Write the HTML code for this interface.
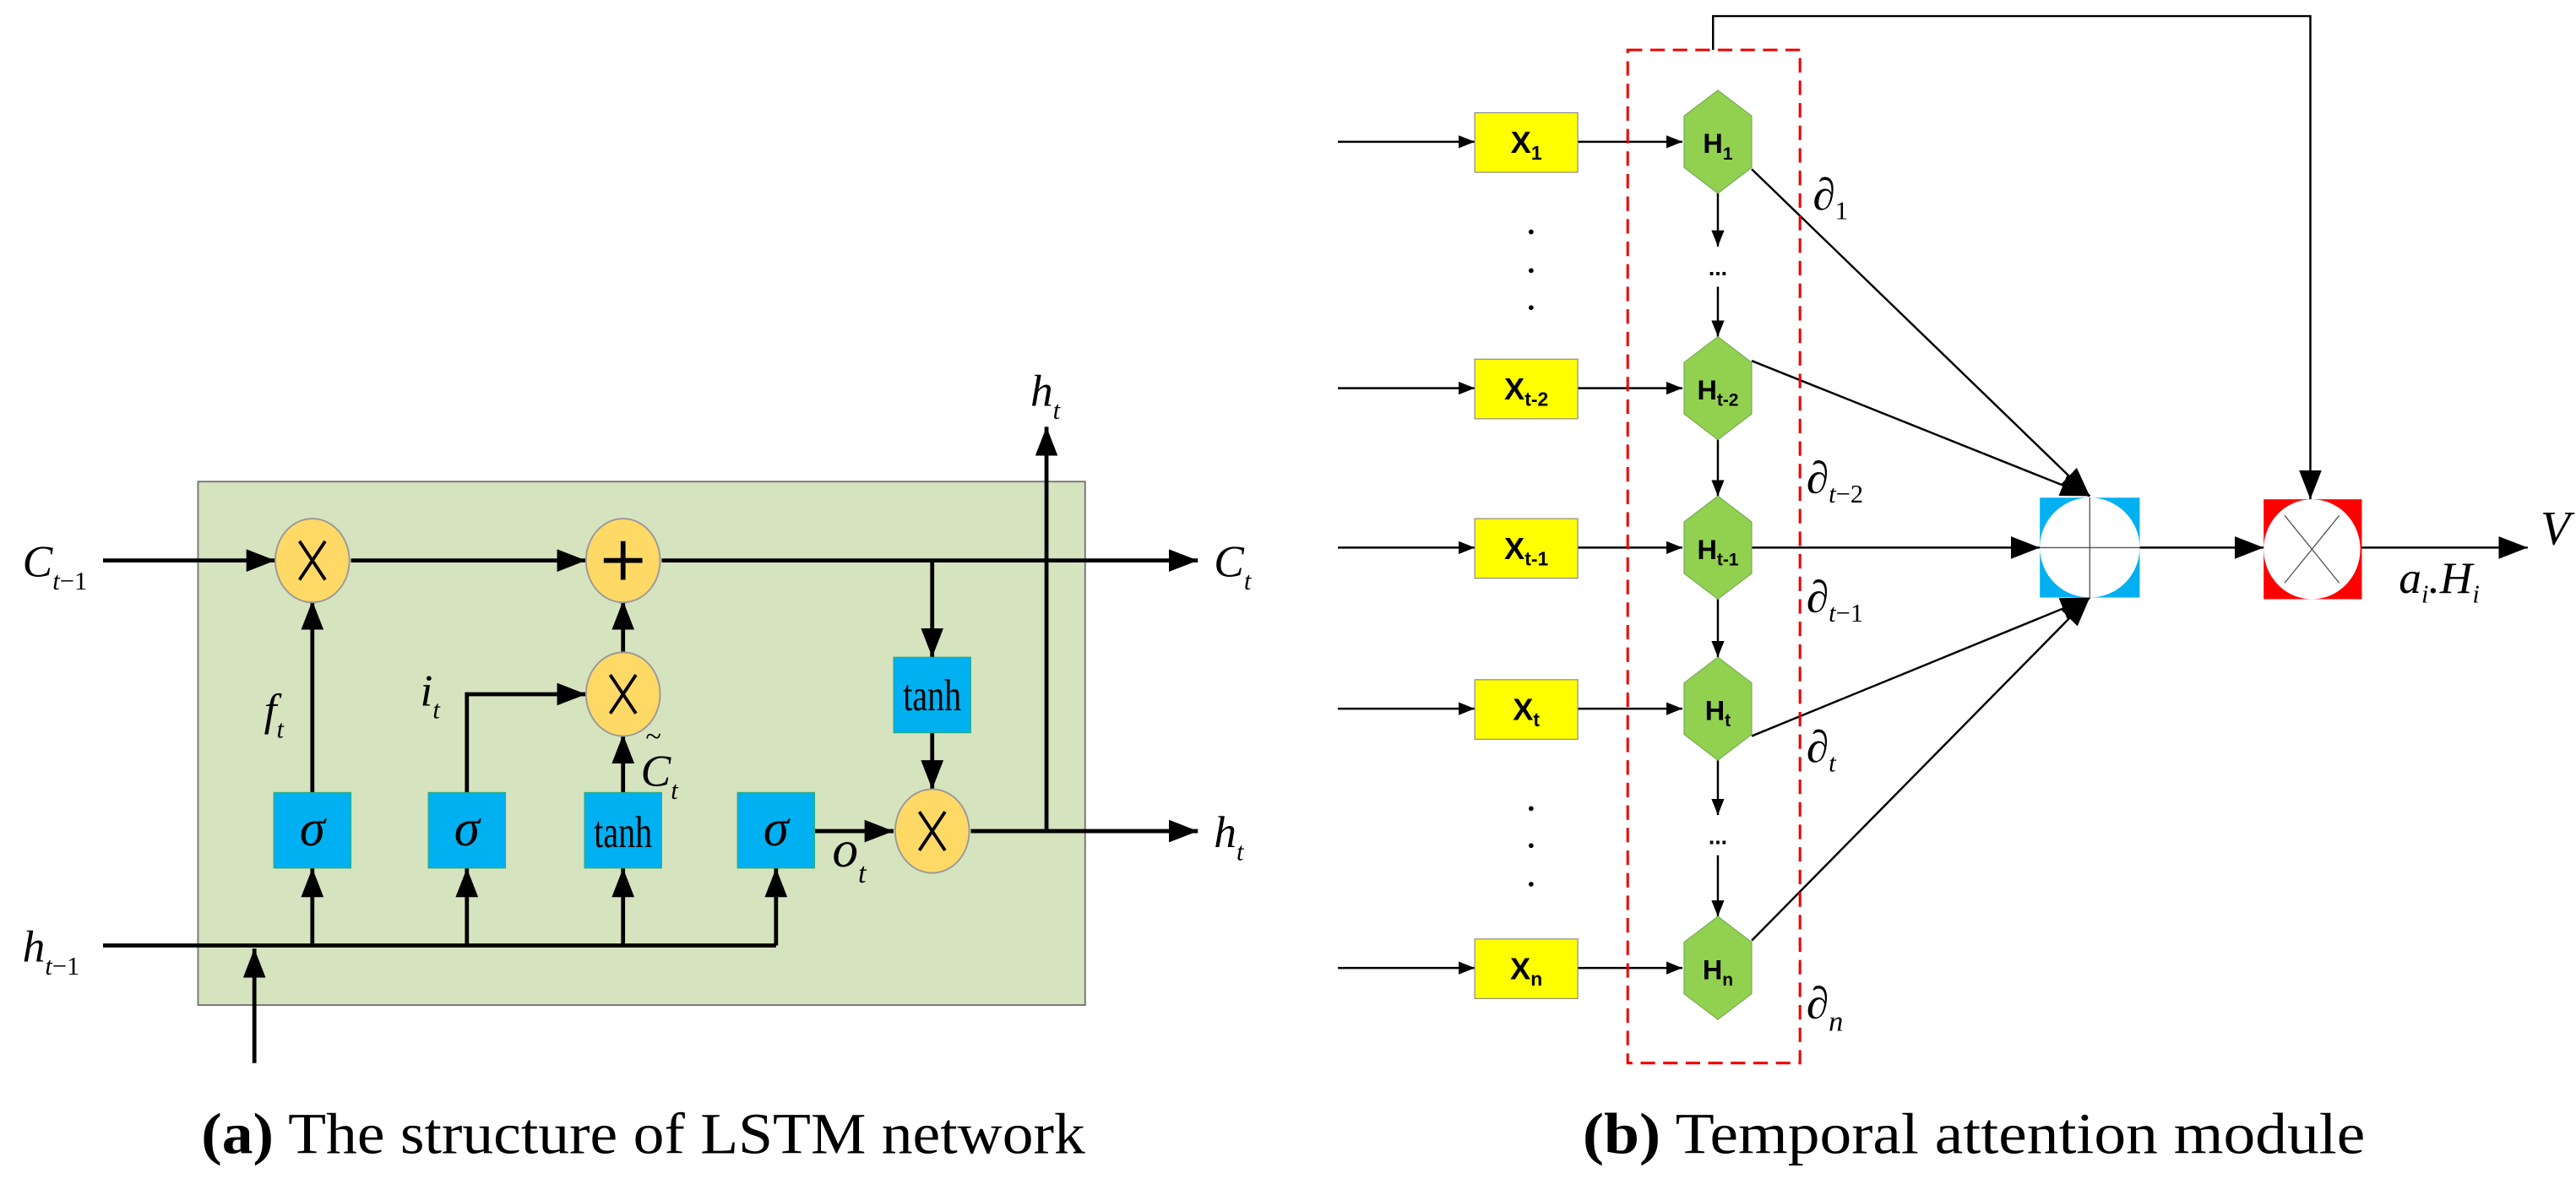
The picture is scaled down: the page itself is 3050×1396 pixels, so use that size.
<!DOCTYPE html>
<html><head><meta charset="utf-8"><style>
html,body{margin:0;padding:0;background:#fff;}
svg{display:block;}
text{font-family:"Liberation Serif",serif;}
g.s text{font-family:"Liberation Sans",sans-serif;font-weight:bold;}
</style></head><body>
<svg width="3050" height="1396" viewBox="0 0 1600 732" preserveAspectRatio="none" xmlns="http://www.w3.org/2000/svg">
<defs>
<marker id="a" markerWidth="10" markerHeight="8" refX="10" refY="4" orient="auto" markerUnits="userSpaceOnUse"><path d="M0,0 L10,4 L0,8 Z" fill="#000"/></marker>
<marker id="A" markerWidth="18" markerHeight="14" refX="18" refY="7" orient="auto" markerUnits="userSpaceOnUse"><path d="M0,0 L18,7 L0,14 Z" fill="#000"/></marker>
</defs>
<!-- Part a -->
<rect x="123" y="299" width="551" height="325" fill="#d6e3bf" stroke="#777" stroke-width="1"/>
<g stroke="#000" stroke-width="2.5" fill="none">
<line x1="64" y1="348" x2="171" y2="348" marker-end="url(#A)"/>
<line x1="218" y1="348" x2="364" y2="348" marker-end="url(#A)"/>
<line x1="411" y1="348" x2="744" y2="348" marker-end="url(#A)"/>
<line x1="579" y1="348" x2="579" y2="408" marker-end="url(#A)"/>
<line x1="579" y1="455" x2="579" y2="490" marker-end="url(#A)"/>
<line x1="194" y1="492" x2="194" y2="373" marker-end="url(#A)"/>
<line x1="387" y1="406" x2="387" y2="373" marker-end="url(#A)"/>
<line x1="387" y1="492" x2="387" y2="456" marker-end="url(#A)"/>
<polyline points="290,492 290,431 364,431" marker-end="url(#A)"/>
<line x1="506" y1="516" x2="555" y2="516" marker-end="url(#A)"/>
<line x1="603" y1="516" x2="744" y2="516" marker-end="url(#A)"/>
<line x1="650" y1="516" x2="650" y2="265" marker-end="url(#A)"/>
<line x1="64" y1="587" x2="482" y2="587"/>
<line x1="194" y1="587" x2="194" y2="539" marker-end="url(#A)"/>
<line x1="290" y1="587" x2="290" y2="539" marker-end="url(#A)"/>
<line x1="387" y1="587" x2="387" y2="539" marker-end="url(#A)"/>
<line x1="482" y1="587" x2="482" y2="539" marker-end="url(#A)"/>
<line x1="158" y1="660" x2="158" y2="589" marker-end="url(#A)"/>
</g>
<g fill="#ffd966" stroke="#999" stroke-width="1">
<ellipse cx="194" cy="348" rx="23" ry="26"/>
<ellipse cx="387" cy="348" rx="23" ry="26"/>
<ellipse cx="387" cy="431" rx="23" ry="26"/>
<ellipse cx="579" cy="516" rx="23" ry="26"/>
</g>
<g stroke="#000" stroke-width="2" fill="none">
<path d="M186,336 L202,360 M202,336 L186,360"/>
<path d="M379,419 L395,443 M395,419 L379,443"/>
<path d="M571,504 L587,528 M587,504 L571,528"/>
<path d="M387,336 L387,360 M375,348 L399,348" stroke-width="3"/>
</g>
<g fill="#00b0f0" stroke="#3a6" stroke-width="0.5">
<rect x="170" y="492" width="48" height="47"/>
<rect x="266" y="492" width="48" height="47"/>
<rect x="363" y="492" width="48" height="47"/>
<rect x="458" y="492" width="48" height="47"/>
<rect x="555" y="408" width="48" height="47"/>
</g>
<g font-size="32" font-style="italic" text-anchor="middle">
<text x="194" y="525">σ</text><text x="290" y="525">σ</text><text x="482" y="525">σ</text>
</g>
<g font-size="28" text-anchor="middle" transform="scale(0.75,1)">
<text x="516" y="526">tanh</text>
<text x="772" y="441">tanh</text>
</g>
<g font-size="28" font-style="italic">
<text x="14" y="358">C<tspan font-size="16" dy="8">t</tspan><tspan font-size="16" font-style="normal">−1</tspan></text>
<text x="14" y="597">h<tspan font-size="16" dy="8">t</tspan><tspan font-size="16" font-style="normal">−1</tspan></text>
<text x="754" y="358">C<tspan font-size="16" dy="8">t</tspan></text>
<text x="754" y="526">h<tspan font-size="16" dy="8">t</tspan></text>
<text x="640" y="252">h<tspan font-size="16" dy="8">t</tspan></text>
<text x="164" y="450">f<tspan font-size="16" dy="8">t</tspan></text>
<text x="261" y="438">i<tspan font-size="16" dy="8">t</tspan></text>
<text x="398" y="488">C<tspan font-size="16" dy="8">t</tspan></text>
<text x="401" y="463" font-size="18" font-style="normal">~</text>
<text x="517" y="538" font-size="32">o<tspan font-size="18" dy="10">t</tspan></text>
</g>
<text x="125" y="716" font-size="36" textLength="549" lengthAdjust="spacingAndGlyphs"><tspan font-weight="bold">(a)</tspan> The structure of LSTM network</text>

<!-- Part b -->
<g stroke="#000" stroke-width="1.3" fill="none">
<line x1="831" y1="88" x2="916" y2="88" marker-end="url(#a)"/>
<line x1="831" y1="241" x2="916" y2="241" marker-end="url(#a)"/>
<line x1="831" y1="340" x2="916" y2="340" marker-end="url(#a)"/>
<line x1="831" y1="440" x2="916" y2="440" marker-end="url(#a)"/>
<line x1="831" y1="601" x2="916" y2="601" marker-end="url(#a)"/>
<line x1="980" y1="88" x2="1045" y2="88" marker-end="url(#a)"/>
<line x1="980" y1="241" x2="1045" y2="241" marker-end="url(#a)"/>
<line x1="980" y1="340" x2="1045" y2="340" marker-end="url(#a)"/>
<line x1="980" y1="440" x2="1045" y2="440" marker-end="url(#a)"/>
<line x1="980" y1="601" x2="1045" y2="601" marker-end="url(#a)"/>
<line x1="1067" y1="120" x2="1067" y2="153" marker-end="url(#a)"/>
<line x1="1067" y1="178" x2="1067" y2="209" marker-end="url(#a)"/>
<line x1="1067" y1="273" x2="1067" y2="308" marker-end="url(#a)"/>
<line x1="1067" y1="372" x2="1067" y2="408" marker-end="url(#a)"/>
<line x1="1067" y1="472" x2="1067" y2="506" marker-end="url(#a)"/>
<line x1="1067" y1="531" x2="1067" y2="569" marker-end="url(#a)"/>
<line x1="1088" y1="105" x2="1298" y2="308" marker-end="url(#A)"/>
<line x1="1088" y1="224" x2="1298" y2="308" marker-end="url(#A)"/>
<line x1="1088" y1="340" x2="1267" y2="340" marker-end="url(#A)"/>
<line x1="1088" y1="457" x2="1298" y2="371" marker-end="url(#A)"/>
<line x1="1088" y1="584" x2="1298" y2="371" marker-end="url(#A)"/>
<line x1="1329" y1="340" x2="1406" y2="340" marker-end="url(#A)"/>
<line x1="1467" y1="340" x2="1570" y2="340" marker-end="url(#A)"/>
<polyline points="1064,31 1064,10 1435,10 1435,310" marker-end="url(#A)"/>
</g>
<rect x="1011" y="31" width="107" height="629" fill="none" stroke="#e00" stroke-width="1.6" stroke-dasharray="9,5"/>
<g fill="#ffff00" stroke="#888" stroke-width="0.6">
<rect x="916" y="70" width="64" height="37"/>
<rect x="916" y="223" width="64" height="37"/>
<rect x="916" y="322" width="64" height="37"/>
<rect x="916" y="422" width="64" height="37"/>
<rect x="916" y="583" width="64" height="37"/>
</g>
<g fill="#92d050" stroke="#7a5" stroke-width="0.6">
<polygon points="1067,56 1088,72 1088,104 1067,120 1046,104 1046,72"/>
<polygon points="1067,209 1088,225 1088,257 1067,273 1046,257 1046,225"/>
<polygon points="1067,308 1088,324 1088,356 1067,372 1046,356 1046,324"/>
<polygon points="1067,408 1088,424 1088,456 1067,472 1046,456 1046,424"/>
<polygon points="1067,569 1088,585 1088,617 1067,633 1046,617 1046,585"/>
</g>
<g class="s" font-size="19" text-anchor="middle">
<text x="948" y="95">X<tspan font-size="12" dy="4">1</tspan></text>
<text x="948" y="248">X<tspan font-size="12" dy="4">t-2</tspan></text>
<text x="948" y="347">X<tspan font-size="12" dy="4">t-1</tspan></text>
<text x="948" y="447">X<tspan font-size="12" dy="4">t</tspan></text>
<text x="948" y="608">X<tspan font-size="12" dy="4">n</tspan></text>
<text x="1067" y="95" font-size="17">H<tspan font-size="11" dy="4">1</tspan></text>
<text x="1067" y="248" font-size="17">H<tspan font-size="11" dy="4">t-2</tspan></text>
<text x="1067" y="347" font-size="17">H<tspan font-size="11" dy="4">t-1</tspan></text>
<text x="1067" y="447" font-size="17">H<tspan font-size="11" dy="4">t</tspan></text>
<text x="1067" y="608" font-size="17">H<tspan font-size="11" dy="4">n</tspan></text>
<text x="1067" y="171" font-size="14">...</text>
<text x="1067" y="524" font-size="14">...</text>
</g>
<g fill="#000">
<circle cx="951" cy="144" r="1.5"/><circle cx="951" cy="168" r="1.5"/><circle cx="951" cy="191" r="1.5"/>
<circle cx="951" cy="502" r="1.5"/><circle cx="951" cy="525" r="1.5"/><circle cx="951" cy="549" r="1.5"/>
</g>
<rect x="1267" y="309" width="62" height="62" fill="#00b0f0"/>
<ellipse cx="1298" cy="340" rx="31" ry="31" fill="#fff"/>
<path d="M1298,309 L1298,371 M1267,340 L1329,340" stroke="#555" stroke-width="0.7"/>
<rect x="1406" y="310" width="61" height="62" fill="#ff0000"/>
<ellipse cx="1436" cy="341" rx="30" ry="31" fill="#fff"/>
<path d="M1419,320 L1453,362 M1453,320 L1419,362" stroke="#555" stroke-width="0.7"/>
<g font-size="28" font-style="italic">
<text x="1126" y="130">∂<tspan font-size="16" font-style="normal" dy="6">1</tspan></text>
<text x="1122" y="306">∂<tspan font-size="16" dy="6">t</tspan><tspan font-size="16" font-style="normal">−2</tspan></text>
<text x="1122" y="380">∂<tspan font-size="16" dy="6">t</tspan><tspan font-size="16" font-style="normal">−1</tspan></text>
<text x="1122" y="473">∂<tspan font-size="16" dy="6">t</tspan></text>
<text x="1122" y="632">∂<tspan font-size="18" dy="8">n</tspan></text>
<text x="1578" y="338" font-size="30">V</text>
<text x="1490" y="368">a<tspan font-size="16" dy="6">i</tspan><tspan dy="-6">.H</tspan><tspan font-size="16" dy="6">i</tspan></text>
</g>
<text x="983" y="716" font-size="36" textLength="486" lengthAdjust="spacingAndGlyphs"><tspan font-weight="bold">(b)</tspan> Temporal attention module</text>
</svg>
</body></html>
